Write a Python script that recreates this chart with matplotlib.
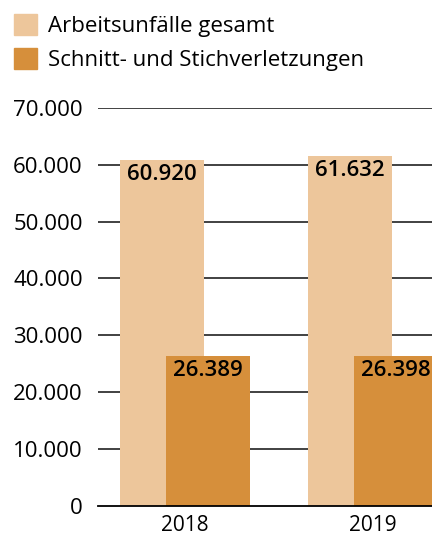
import matplotlib.pyplot as plt
from matplotlib.patches import Patch
import numpy as np

years = ['2018', '2019']
gesamt = [60920, 61632]
schnitt = [26389, 26398]
labels = ['Arbeitsunfälle gesamt', 'Schnitt- und Stichverletzungen']
yticks = [0, 10000, 20000, 30000, 40000, 50000, 60000, 70000]

light = '#EDC69B'
dark = '#D68F3B'

plt.rcParams['font.family'] = ['Open Sans', 'DejaVu Sans']

fig = plt.figure(figsize=(4.32, 5.38), dpi=100)
ax = fig.add_axes([98 / 432, 32.5 / 538, 1 - 98 / 432, (430 - 32.5) / 538])

x = np.arange(len(years))
w = 0.447
off = 0.122
b1 = ax.bar(x - off, gesamt, w, color=light, zorder=2)
b2 = ax.bar(x + off, schnitt, w, color=dark, zorder=3)

def fmt(v):
    return f'{v:,}'.replace(',', '.')

for bars, vals in [(b1, gesamt), (b2, schnitt)]:
    for b, v in zip(bars, vals):
        ax.annotate(fmt(v), (b.get_x() + b.get_width() / 2, v), xytext=(0, -3),
                    textcoords='offset points', ha='center', va='top',
                    fontsize=16, fontweight='semibold', color='black', zorder=4)

ax.set_xlim(-0.463, 1.314)
ax.set_ylim(0, 70000)
ax.set_yticks(yticks)
ax.set_yticklabels([fmt(t) for t in yticks])
ax.set_xticks(x)
ax.set_xticklabels(years)
ax.tick_params(axis='both', length=0, labelsize=16, colors='black')
ax.tick_params(axis='y', pad=11)
ax.tick_params(axis='x', pad=7, labelsize=15)
for t in yticks[1:]:
    ax.axhline(t, color='#333333', lw=1.3, zorder=1)
for s in ['top', 'right', 'left']:
    ax.spines[s].set_visible(False)
ax.spines['bottom'].set_color('black')
ax.spines['bottom'].set_linewidth(1.3)
ax.spines['bottom'].set_zorder(5)

handles = [Patch(color=light), Patch(color=dark)]
fig.legend(handles, labels, loc='upper left', bbox_to_anchor=(14 / 432, 1 - 14 / 538),
           frameon=False, fontsize=16, handlelength=1.05, handleheight=1.05,
           handletextpad=0.5, labelspacing=0.5, borderaxespad=0, borderpad=0)

fig.savefig('out.png', dpi=100)
